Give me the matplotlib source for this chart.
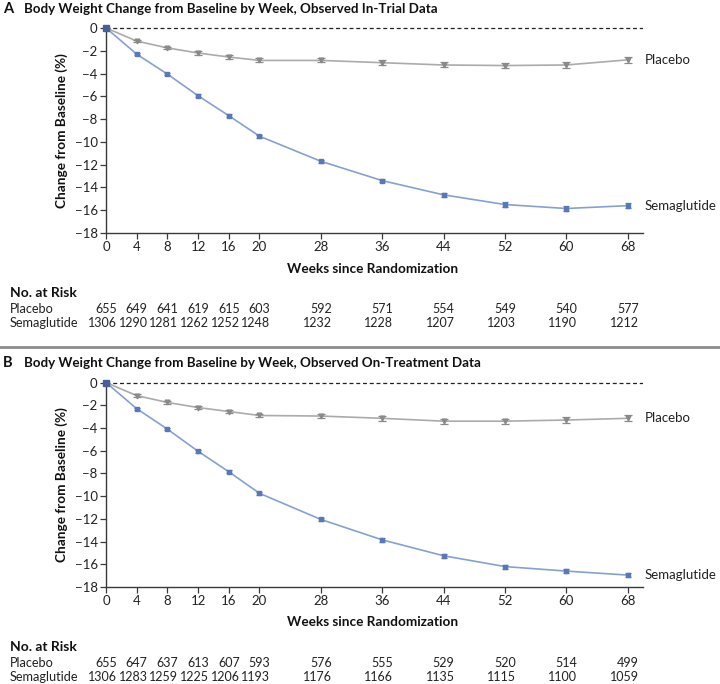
import matplotlib

matplotlib.use("Agg")
import matplotlib.pyplot as plt
import matplotlib.transforms as mtransforms
from matplotlib.lines import Line2D
import numpy as np

plt.rcParams["font.family"] = ["Lato", "DejaVu Sans"]

# ---- data ----
weeks = [0, 4, 8, 12, 16, 20, 28, 36, 44, 52, 60, 68]
week_ticks = weeks
y_ticks = [0, -2, -4, -6, -8, -10, -12, -14, -16, -18]

# Panel A: observed in-trial data
a_placebo = [0, -1.15, -1.75, -2.2, -2.55, -2.85, -2.85, -3.05, -3.25, -3.3, -3.25, -2.8]
a_placebo_err = [0, 0.12, 0.12, 0.14, 0.15, 0.17, 0.18, 0.2, 0.22, 0.22, 0.24, 0.25]
a_sema = [0, -2.3, -4.05, -5.95, -7.7, -9.5, -11.7, -13.4, -14.65, -15.5, -15.85, -15.6]
a_sema_err = [0, 0.1, 0.11, 0.12, 0.13, 0.14, 0.15, 0.16, 0.17, 0.18, 0.19, 0.2]
a_risk_placebo = [655, 649, 641, 619, 615, 603, 592, 571, 554, 549, 540, 577]
a_risk_sema = [1306, 1290, 1281, 1262, 1252, 1248, 1232, 1228, 1207, 1203, 1190, 1212]

# Panel B: observed on-treatment data
b_placebo = [0, -1.15, -1.75, -2.2, -2.55, -2.9, -2.95, -3.15, -3.4, -3.4, -3.3, -3.15]
b_placebo_err = [0, 0.12, 0.12, 0.14, 0.15, 0.17, 0.18, 0.2, 0.22, 0.23, 0.24, 0.26]
b_sema = [0, -2.3, -4.1, -6.05, -7.85, -9.75, -12.05, -13.85, -15.25, -16.2, -16.6, -16.95]
b_sema_err = [0, 0.1, 0.11, 0.12, 0.13, 0.14, 0.15, 0.16, 0.17, 0.18, 0.19, 0.2]
b_risk_placebo = [655, 647, 637, 613, 607, 593, 576, 555, 529, 520, 514, 499]
b_risk_sema = [1306, 1283, 1259, 1225, 1206, 1193, 1176, 1166, 1135, 1115, 1100, 1059]

SEMA_MK = "#5a78b8"
SEMA_LN = "#86a0d2"
PLAC_MK = "#8a8a8a"
PLAC_LN = "#ababab"
AXIS_C = "#3a3a3a"

W, H = 720, 684
fig = plt.figure(figsize=(W / 100, H / 100), dpi=100)


def px(x, y):
    """pixel coords (top-left origin) -> figure fraction"""
    return x / W, 1 - y / H


def draw_panel(rect, letter, title, title_y, placebo, placebo_err, sema, sema_err,
               risk_placebo, risk_sema, xlabel_y, risk_y):
    ax = fig.add_axes(rect)
    ax.set_xlim(0, 70)
    ax.set_ylim(-18, 0.4)

    ax.axhline(0, color="#222222", lw=0.9, ls=(0, (3.2, 2.2)), zorder=1)

    ax.plot(weeks, placebo, color=PLAC_LN, lw=1.2, zorder=2)
    ax.errorbar(weeks[1:], placebo[1:], yerr=placebo_err[1:], fmt="v", ms=3.4,
                color=PLAC_MK, ecolor=PLAC_MK, elinewidth=0.9, capsize=2.6,
                capthick=0.9, zorder=3)
    ax.plot(weeks, sema, color=SEMA_LN, lw=1.2, zorder=2)
    ax.errorbar(weeks[1:], sema[1:], yerr=sema_err[1:], fmt="s", ms=3.4,
                color=SEMA_MK, ecolor=SEMA_MK, elinewidth=0.9, capsize=2.4,
                capthick=0.9, zorder=4)
    ax.plot([0], [0], marker="s", ms=4, color="#4a5f9a", zorder=5, clip_on=False)

    ax.annotate("Placebo", xy=(weeks[-1], placebo[-1]), xytext=(12, 0),
                textcoords="offset points", va="center", ha="left",
                fontsize=9.5, color="#222222", annotation_clip=False)
    ax.annotate("Semaglutide", xy=(weeks[-1], sema[-1]), xytext=(12, 0),
                textcoords="offset points", va="center", ha="left",
                fontsize=9.5, color="#222222", annotation_clip=False)

    for s in ("top", "right"):
        ax.spines[s].set_visible(False)
    for s in ("left", "bottom"):
        ax.spines[s].set_color(AXIS_C)
        ax.spines[s].set_linewidth(1.0)
    ax.spines["left"].set_bounds(-18, 0)
    ax.set_xticks(week_ticks)
    ax.set_yticks(y_ticks)
    ax.set_yticklabels([str(v).replace("-", "\u2212") for v in y_ticks])
    ax.tick_params(direction="out", length=4, width=0.9, color=AXIS_C,
                   labelsize=9.5, labelcolor="#222222", pad=2)

    # panel heading
    fig.text(*px(3, title_y), letter, fontsize=10.5, fontweight="bold",
             va="center", ha="left", color="#111111")
    fig.text(*px(24, title_y), title, fontsize=9.6, fontweight="bold",
             va="center", ha="left", color="#111111")

    fig.text(*px(373, xlabel_y), "Weeks since Randomization", fontsize=9.8,
             fontweight="bold", ha="center", va="center", color="#111111")
    y0 = rect[1] + rect[3] * 18 / 18.4
    fig.text(62 / W, (rect[1] + y0) / 2, "Change from Baseline (%)", fontsize=9.8,
             fontweight="bold", rotation=90, ha="center", va="center", color="#111111")

    # number at risk table
    fig.text(*px(10, risk_y), "No. at Risk", fontsize=10, fontweight="bold",
             va="center", ha="left", color="#111111")
    fig.text(*px(10, risk_y + 16), "Placebo", fontsize=9.2, va="center", ha="left",
             color="#222222")
    fig.text(*px(10, risk_y + 30), "Semaglutide", fontsize=9.2, va="center", ha="left",
             color="#222222")
    trans = mtransforms.blended_transform_factory(ax.transData, fig.transFigure)
    shift = mtransforms.ScaledTranslation(11 / 100, 0, fig.dpi_scale_trans)
    for w, n_p, n_s in zip(weeks, risk_placebo, risk_sema):
        fig.text(w, px(0, risk_y + 16)[1], str(n_p), transform=trans + shift,
                 fontsize=9, ha="right", va="center", color="#222222")
        fig.text(w, px(0, risk_y + 30)[1], str(n_s), transform=trans + shift,
                 fontsize=9, ha="right", va="center", color="#222222")
    return ax


rect_a = [106 / W, 1 - 233 / H, 537 / W, (233 - 23.4) / H]
rect_b = [106 / W, 1 - 587 / H, 537 / W, (587 - 378) / H]

draw_panel(rect_a, "A", "Body Weight Change from Baseline by Week, Observed In-Trial Data",
           9, a_placebo, a_placebo_err, a_sema, a_sema_err,
           a_risk_placebo, a_risk_sema, 269, 293)
draw_panel(rect_b, "B", "Body Weight Change from Baseline by Week, Observed On-Treatment Data",
           363, b_placebo, b_placebo_err, b_sema, b_sema_err,
           b_risk_placebo, b_risk_sema, 622, 647)

# divider between the two panels
fig.add_artist(Line2D([0, 1], [1 - 347 / H] * 2, transform=fig.transFigure,
                      color="#8c8c8c", lw=2.0))

fig.savefig("out.png", dpi=100)
